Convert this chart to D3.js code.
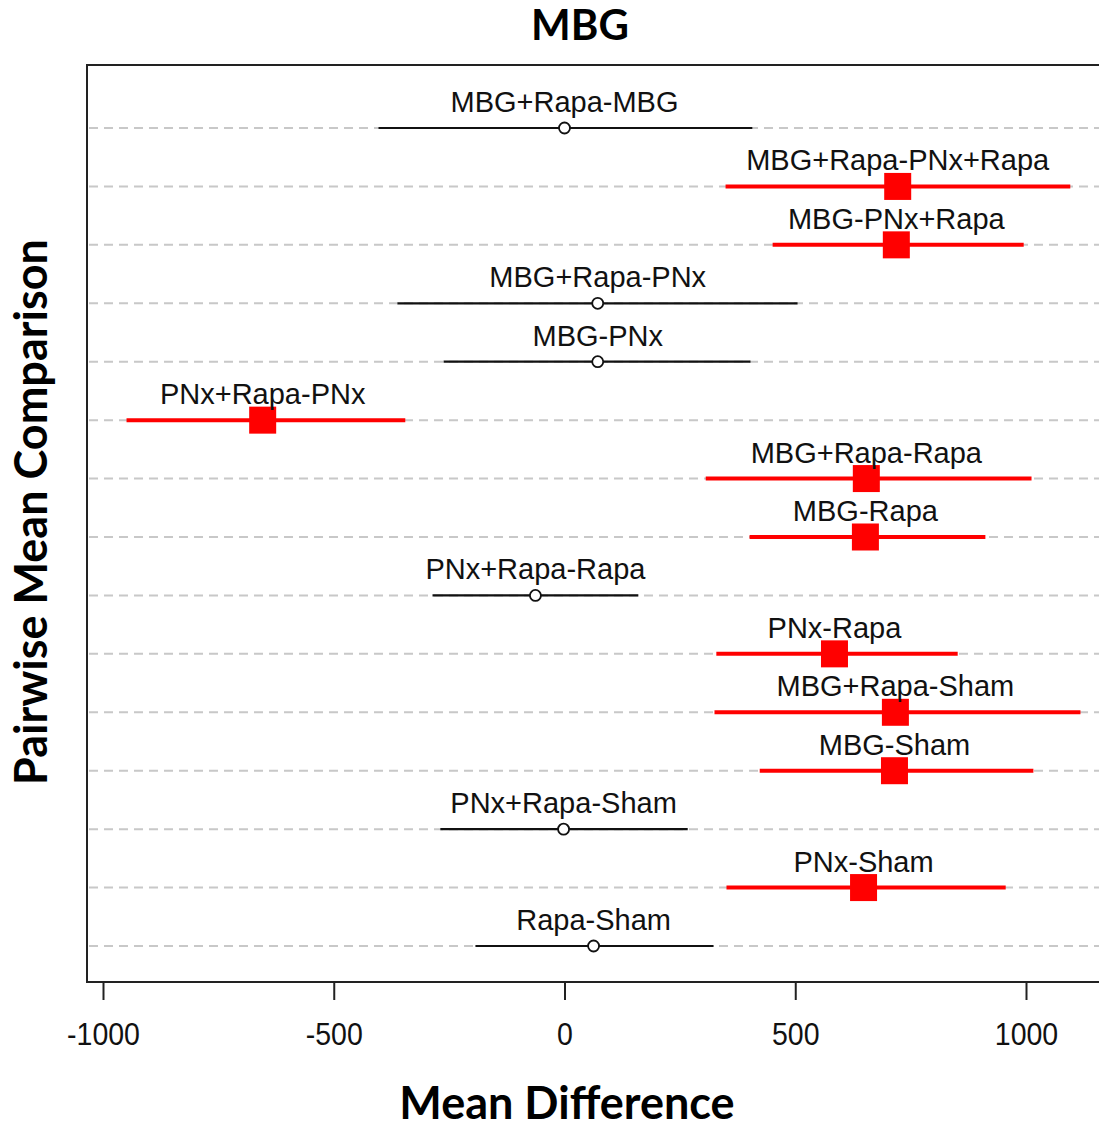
<!DOCTYPE html>
<html>
<head>
  <meta charset="utf-8">
  <title>MBG pairwise comparison</title>
  <style>
    * { margin: 0; padding: 0; }
    body { background: #fff; width: 1099px; height: 1126px; overflow: hidden; }
    svg { display: block; }
    .tick text { font-family: "Liberation Sans", Arial, sans-serif; }
  </style>
</head>
<body>
  <svg id="svg"></svg>
  <script src="https://cdnjs.cloudflare.com/ajax/libs/d3/7.8.5/d3.min.js"></script>
  <script>
    // comparisons, top to bottom
    const comparisons = [
      'MBG+Rapa-MBG', 'MBG+Rapa-PNx+Rapa', 'MBG-PNx+Rapa', 'MBG+Rapa-PNx', 'MBG-PNx',
      'PNx+Rapa-PNx', 'MBG+Rapa-Rapa', 'MBG-Rapa', 'PNx+Rapa-Rapa', 'PNx-Rapa',
      'MBG+Rapa-Sham', 'MBG-Sham', 'PNx+Rapa-Sham', 'PNx-Sham', 'Rapa-Sham'
    ];
    const meanDiff = [0, 722, 719, 72, 72, -654, 654, 652, -63, 585, 717, 715, -2, 648, 63];
    const lower = [-403, 349, 451, -362, -262, -949, 306, 401, -286, 329, 325, 423, -269, 351, -193];
    const upper = [407, 1096, 995, 505, 403, -345, 1012, 912, 160, 852, 1118, 1016, 267, 956, 323];
    const significant = [false, true, true, false, false, true, true, true, false, true, true, true, false, true, false];
    const xTicks = [-1000, -500, 0, 500, 1000];

    const width = 1099, height = 1126;
    const box = { left: 87, top: 65, right: 1102, bottom: 982 };

    const rows = comparisons.map((c, i) => ({
      name: c, mean: meanDiff[i], lo: lower[i], hi: upper[i], sig: significant[i]
    }));

    const svg = d3.select('#svg').attr('width', width).attr('height', height);

    const x = d3.scaleLinear().domain([-1000, 1000]).range([103, 1026]);
    const y = d3.scalePoint().domain(comparisons).range([128, 946]);

    // dashed guide lines
    svg.append('g')
      .selectAll('line')
      .data(comparisons)
      .enter()
      .append('line')
      .attr('x1', box.left + 2)
      .attr('x2', box.right)
      .attr('y1', d => y(d))
      .attr('y2', d => y(d))
      .attr('stroke', '#c8c8c8')
      .attr('stroke-width', 2)
      .attr('stroke-dasharray', '9,6');

    // plot frame
    svg.append('rect')
      .attr('x', box.left)
      .attr('y', box.top)
      .attr('width', box.right - box.left)
      .attr('height', box.bottom - box.top)
      .attr('fill', 'none')
      .attr('stroke', '#222')
      .attr('stroke-width', 2);

    // x axis
    const xAxis = d3.axisBottom(x).tickValues(xTicks).tickSize(18).tickPadding(23).tickFormat(d => String(d));
    const gx = svg.append('g')
      .attr('transform', `translate(0, ${box.bottom})`)
      .call(xAxis);
    gx.select('.domain').remove();
    gx.selectAll('.tick line').attr('stroke', '#222').attr('stroke-width', 2);
    gx.selectAll('.tick text')
      .attr('font-size', 31)
      .attr('fill', '#111')
      .attr('transform', 'scale(0.92,1)');

    // interval lines
    const marks = svg.append('g');
    marks.selectAll('line.ci')
      .data(rows)
      .enter()
      .append('line')
      .attr('class', 'ci')
      .attr('x1', d => x(d.lo))
      .attr('x2', d => x(d.hi))
      .attr('y1', d => y(d.name))
      .attr('y2', d => y(d.name))
      .attr('stroke', d => d.sig ? '#ff0000' : '#111')
      .attr('stroke-width', d => d.sig ? 4 : 2.2);

    // significant means: red squares
    const sq = 27;
    marks.selectAll('rect.sig')
      .data(rows.filter(d => d.sig))
      .enter()
      .append('rect')
      .attr('class', 'sig')
      .attr('x', d => x(d.mean) - sq / 2)
      .attr('y', d => y(d.name) - sq / 2)
      .attr('width', sq)
      .attr('height', sq)
      .attr('fill', '#ff0000');

    // non-significant means: open circles
    marks.selectAll('circle')
      .data(rows.filter(d => !d.sig))
      .enter()
      .append('circle')
      .attr('cx', d => x(d.mean))
      .attr('cy', d => y(d.name))
      .attr('r', 5.5)
      .attr('fill', '#fff')
      .attr('stroke', '#111')
      .attr('stroke-width', 1.8);

    // labels above each interval
    marks.selectAll('text')
      .data(rows)
      .enter()
      .append('text')
      .attr('x', d => x(d.mean))
      .attr('y', d => y(d.name) - 16)
      .attr('text-anchor', 'middle')
      .attr('font-family', '"Liberation Sans", Arial, sans-serif')
      .attr('font-size', 29)
      .attr('fill', '#111')
      .text(d => d.name);

    // titles
    svg.append('text')
      .attr('x', 580)
      .attr('y', 40)
      .attr('text-anchor', 'middle')
      .attr('font-family', 'Lato, "Open Sans", sans-serif')
      .attr('font-weight', 'bold')
      .attr('font-size', 42)
      .text('MBG');

    svg.append('text')
      .attr('x', 567)
      .attr('y', 1119)
      .attr('text-anchor', 'middle')
      .attr('font-family', 'Lato, "Open Sans", sans-serif')
      .attr('font-weight', 'bold')
      .attr('font-size', 45)
      .text('Mean Difference');

    svg.append('text')
      .attr('transform', 'translate(47, 512) rotate(-90)')
      .attr('text-anchor', 'middle')
      .attr('font-family', 'Lato, "Open Sans", sans-serif')
      .attr('font-weight', 'bold')
      .attr('font-size', 45)
      .text('Pairwise Mean Comparison');
  </script>
</body>
</html>
